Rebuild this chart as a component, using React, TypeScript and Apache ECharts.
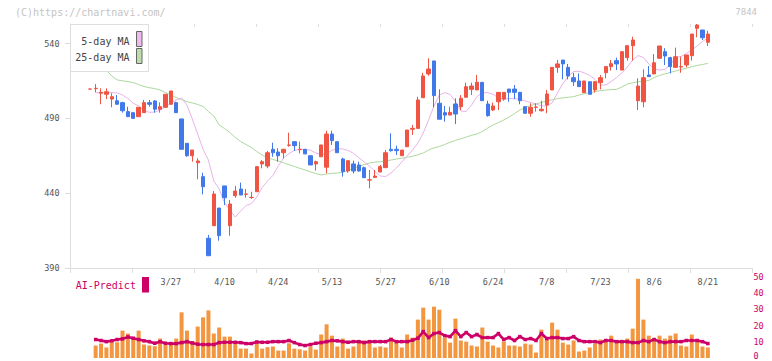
import React, { useEffect, useRef } from "react";
import * as echarts from "echarts";

// ---- data ----
const dates = [
  "3/5", "3/6", "3/7", "3/8", "3/11", "3/12", "3/13", "3/14", "3/15", "3/18", "3/19", "3/21", "3/22", "3/25", "3/26",
  "3/27", "3/28", "3/29", "4/1", "4/2", "4/3", "4/4", "4/5", "4/8", "4/9",
  "4/10", "4/11", "4/12", "4/15", "4/16", "4/17", "4/18", "4/19", "4/22", "4/23",
  "4/24", "4/25", "4/26", "4/30", "5/1", "5/2", "5/7", "5/8", "5/9", "5/10",
  "5/13", "5/14", "5/15", "5/16", "5/17", "5/20", "5/21", "5/22", "5/23", "5/24",
  "5/27", "5/28", "5/29", "5/30", "5/31", "6/3", "6/4", "6/5", "6/6", "6/7",
  "6/10", "6/11", "6/12", "6/13", "6/14", "6/17", "6/18", "6/19", "6/20", "6/21",
  "6/24", "6/25", "6/26", "6/27", "6/28", "7/1", "7/2", "7/3", "7/4", "7/5",
  "7/8", "7/9", "7/10", "7/11", "7/12", "7/16", "7/17", "7/18", "7/19", "7/22",
  "7/23", "7/24", "7/25", "7/26", "7/29", "7/30", "7/31", "8/1", "8/2", "8/5",
  "8/6", "8/7", "8/8", "8/9", "8/13", "8/14", "8/15", "8/16", "8/19", "8/20",
  "8/21",
];

const dateLabels = ["3/27", "4/10", "4/24", "5/13", "5/27", "6/10", "6/24", "7/8", "7/23", "8/6", "8/21"];
const priceTicks = [390, 440, 490, 540];
const volumeTicks = [0, 10, 20, 30, 40, 50];

const opens = [
  509.7,
  510, 506.9, 506.2, 503, 501.9, 500.6, 494.6, 493.9, 491.2, 493.9,
  500.6, 501.7, 496.2, 497.5, 499.5, 500.6, 489.7, 473.4, 465.1, 460.4,
  451.1, 409.9, 418.3, 430.1, 444.9, 418.3, 438.4, 442.8, 439.3, 437.1,
  441.0, 459.6, 458.2, 469.4, 467.6, 467.1, 472.1, 474.5, 469.2, 469.4,
  465.1, 459.6, 464.4, 457.4, 479.6, 474.5, 462.9, 454.9, 459.6, 458.9,
  457.1, 448.8, 450.6, 454.2, 457.1, 469.4, 469.4, 465.1, 471.1, 482.8,
  483.4, 503.9, 519.8, 528.5, 500.2, 493.9, 492.3, 499.7, 497.9, 504.2,
  509.5, 509.1, 514.2, 499.7, 495.7, 501.2, 503.0, 509.7, 509.7, 507.5,
  497.9, 493.5, 497.5, 495.2, 499.0, 509.1, 524.2, 529.1, 524.2, 517.3,
  515.1, 507.3, 514.6, 509.1, 514.0, 520.6, 524.7, 528.7, 522.4, 530.7,
  538.7, 501.9, 501.2, 519.1, 519.8, 530.3, 534.7, 530.7, 524.2, 524.5,
  525.8, 532.0, 550.3, 549.2, 541.0,
];

const closes = [
  509.7,
  510.2, 507.5, 507.9, 504.6, 499.5, 495.2, 491.2, 490.1, 497.5, 500.6,
  499.5, 496.2, 497.9, 506.2, 508.4, 493.9, 469.4, 465.1, 468.9, 461.6,
  444.4, 398.2, 439.5, 411.6, 437.0, 432.8, 441.5, 438.8, 439.5, 437.3,
  457.8, 461.1, 467.1, 467.1, 465.1, 469.4, 472.3, 471.8, 469.4, 466.3,
  458.9, 461.1, 472.3, 479.6, 475.2, 467.1, 454.4, 461.8, 454.9, 454.9,
  450.4, 449.0, 451.5, 457.8, 467.1, 468.5, 468.5, 468.9, 482.3, 483.4,
  502.4, 518.4, 523.1, 505.3, 489.5, 492.3, 494.1, 493.0, 503.5, 511.3,
  511.7, 514.2, 501.9, 491.9, 498.4, 507.5, 507.5, 507.5, 507.5, 501.9,
  493.5, 497.5, 497.7, 496.2, 506.4, 524.2, 526.5, 526.5, 518.4, 514.6,
  511.3, 515.1, 506.2, 514.6, 517.3, 524.7, 526.7, 526.5, 534.7, 538.7,
  542.5, 511.7, 517.3, 518.0, 527.3, 538.5, 531.8, 524.7, 531.3, 524.7,
  532.5, 546.5, 552.5, 544.0, 546.5,
];

const lows = [
  509.7,
  507.5, 499.5, 503.0, 497.5, 499.5, 493.9, 491.2, 490.1, 491.2, 493.9,
  497.9, 493.9, 493.9, 497.5, 499.5, 493.9, 469.4, 464.4, 461.1, 449.3,
  439.3, 398.2, 418.3, 408.3, 432.1, 411.6, 437.0, 438.8, 437.0, 436.2,
  441.0, 456.7, 456.7, 464.4, 461.1, 463.4, 471.1, 468.3, 466.7, 466.3,
  458.9, 455.1, 464.4, 453.3, 472.3, 467.1, 451.1, 453.7, 453.3, 454.4,
  450.4, 443.3, 450.6, 454.2, 457.1, 467.8, 465.6, 465.1, 471.1, 479.0,
  483.0, 503.9, 518.6, 497.5, 489.5, 487.9, 492.3, 486.3, 495.7, 504.2,
  505.7, 509.1, 501.9, 491.2, 495.0, 495.7, 501.9, 501.2, 503.0, 499.5,
  493.5, 491.2, 494.6, 494.6, 493.5, 509.1, 520.6, 516.2, 516.2, 511.7,
  511.3, 507.3, 506.2, 507.3, 509.5, 516.9, 522.0, 522.4, 522.4, 528.7,
  528.7, 495.7, 497.5, 518.0, 519.8, 529.7, 525.8, 520.2, 524.2, 520.6,
  524.2, 528.7, 544.3, 542.5, 538.5,
];

const highs = [
  509.7,
  513.0, 510.2, 510.2, 506.9, 505.7, 501.2, 497.9, 493.9, 497.5, 502.4,
  502.4, 502.4, 500.8, 506.2, 508.4, 501.2, 489.7, 473.4, 468.9, 463.4,
  453.7, 412.1, 441.5, 430.1, 444.9, 435.5, 444.9, 447.1, 442.8, 441.0,
  457.8, 462.2, 468.3, 473.8, 470.1, 469.4, 480.5, 474.5, 474.5, 469.4,
  465.1, 461.8, 472.3, 481.8, 481.8, 474.5, 463.8, 461.8, 461.8, 461.1,
  457.8, 455.6, 455.6, 458.9, 468.9, 480.1, 471.8, 468.9, 482.3, 485.7,
  504.6, 520.6, 530.3, 528.5, 509.5, 498.4, 497.9, 503.5, 505.7, 514.0,
  514.0, 519.1, 514.2, 501.9, 500.6, 507.5, 507.5, 509.7, 512.4, 507.5,
  497.9, 500.2, 500.2, 501.9, 509.1, 524.2, 529.1, 529.1, 526.5, 520.6,
  520.2, 515.1, 514.6, 515.1, 519.1, 524.7, 529.1, 530.7, 534.7, 538.7,
  544.7, 516.9, 522.9, 525.1, 533.1, 538.5, 537.0, 531.3, 537.4, 531.3,
  532.5, 546.5, 553.2, 549.2, 548.7,
];

const ma5 = [
  null,
  507.3, 507.1, 507.4, 507.4, 507.1, 505.7, 503.4, 500.2, 498.4, 495.4,
  494.1, 494.3, 495.7, 497.7, 500.4, 502.4, 503.7, 499.0, 489.7, 479.6,
  469.3, 462.2, 448.2, 442.8, 433.5, 428.8, 424.1, 428.1, 431.8, 433.1,
  437.5, 443.8, 448.2, 451.9, 458.2, 463.6, 466.6, 468.6, 469.4, 469.2,
  468.9, 466.9, 465.9, 466.7, 468.6, 469.9, 469.6, 468.6, 466.7, 463.9,
  460.9, 458.2, 454.6, 451.5, 451.2, 453.5, 456.9, 460.9, 464.9, 468.9,
  473.6, 480.3, 489.0, 498.4, 505.7, 507.3, 506.1, 501.4, 495.0, 494.7,
  499.0, 504.7, 507.1, 507.3, 506.1, 504.0, 502.8, 503.4, 503.2, 502.8,
  501.8, 500.7, 499.7, 498.4, 498.4, 500.4, 507.1, 513.4, 518.1, 521.4,
  521.6, 520.6, 518.8, 516.1, 512.4, 512.4, 514.7, 517.4, 520.4, 524.4,
  529.1, 532.1, 530.8, 526.5, 523.1, 522.4, 522.8, 526.1, 530.8, 531.5,
  533.5, 535.8, 538.5, 541.5, 543.8,
];

const ma25 = [
  530.5,
  527.8, 525.1, 522.4, 518.4, 515.8, 515.2, 514.7, 514.0, 512.7, 511.4,
  510.6, 510.0, 509.1, 507.4, 505.7, 504.0, 502.7, 501.2, 500.4, 499.4,
  498.0, 494.7, 491.7, 485.7, 483.3, 480.6, 477.3, 474.6, 472.6, 470.6,
  467.9, 465.6, 463.6, 462.6, 461.6, 460.4, 459.1, 457.9, 456.7, 455.6,
  454.3, 453.2, 452.2, 452.9, 453.3, 453.5, 454.2, 455.2, 456.6, 457.9,
  459.2, 460.2, 460.8, 461.1, 461.7, 462.2, 462.9, 463.4, 464.1, 464.8,
  465.7, 466.9, 468.9, 470.4, 471.3, 472.6, 474.1, 475.4, 476.4, 477.6,
  478.8, 479.6, 481.3, 483.6, 485.7, 487.3, 489.0, 491.0, 493.3, 495.7,
  497.4, 498.7, 499.7, 500.7, 501.8, 502.5, 503.3, 503.8, 504.2, 504.6,
  505.7, 506.6, 507.3, 508.0, 508.7, 509.0, 509.3, 509.5, 511.1, 513.1,
  513.9, 514.6, 515.0, 515.4, 517.4, 518.8, 519.8, 520.8, 521.8, 522.8,
  523.6, 524.6, 525.5, 526.1, 526.9,
];

const volumes = [
  null,
  7.7, 8.9, 6.5, 9.7, 9.7, 16.9, 15.1, 12.0, 16.9, 8.3,
  7.7, 7.3, 12.0, 8.3, 8.3, 12.0, 28.2, 16.9, 10.4, 19.4,
  25.1, 29.4, 15.1, 18.8, 13.2, 13.2, 9.7, 5.8, 5.8, 2.8,
  10.4, 5.8, 6.7, 7.1, 4.6, 4.6, 9.1, 5.8, 5.4, 4.6,
  7.1, 5.2, 14.5, 20.8, 13.8, 7.1, 12.0, 5.8, 7.1, 10.8,
  10.8, 9.5, 6.5, 7.1, 6.5, 12.6, 9.5, 6.5, 14.5, 12.6,
  23.7, 31.1, 23.7, 31.7, 29.8, 12.6, 9.5, 24.3, 10.8, 10.1,
  7.7, 7.1, 18.8, 10.1, 7.7, 6.5, 10.1, 7.7, 7.7, 7.1,
  8.9, 8.3, 3.4, 17.5, 11.4, 21.8, 17.5, 9.5, 8.3, 10.8,
  4.0, 4.6, 6.5, 8.9, 11.4, 11.4, 13.8, 10.8, 10.8, 12.0,
  18.1, 48.9, 23.7, 13.8, 12.0, 13.8, 12.0, 13.8, 15.1, 7.7,
  7.1, 14.5, 10.1, 7.1, 6.5,
];

const aiPredict = [
  null,
  11.4, 10.8, 10.1, 10.6, 11.4, 11.8, 13.0, 12.2, 11.4, 10.6,
  10.1, 9.1, 10.1, 9.1, 8.9, 8.9, 9.5, 10.1, 9.3, 8.5,
  8.3, 8.3, 8.3, 9.5, 9.7, 9.7, 9.7, 9.5, 8.9, 8.9,
  9.9, 9.7, 9.7, 10.1, 10.1, 10.1, 10.8, 9.5, 8.3, 7.7,
  8.3, 9.1, 9.5, 10.1, 10.8, 10.6, 10.1, 9.7, 10.1, 10.1,
  9.5, 10.1, 10.1, 10.1, 10.1, 11.4, 10.1, 10.1, 10.1, 11.0,
  12.2, 16.3, 12.6, 15.1, 15.7, 13.8, 13.2, 16.9, 13.2, 15.7,
  13.2, 14.5, 12.6, 12.6, 12.6, 15.1, 11.4, 12.6, 10.8, 13.2,
  11.4, 12.0, 10.8, 15.1, 12.0, 12.6, 12.6, 12.0, 12.0, 13.2,
  10.8, 10.1, 10.1, 10.1, 9.5, 10.8, 10.8, 10.1, 10.1, 10.1,
  9.5, 9.5, 10.8, 10.1, 11.4, 10.1, 9.5, 10.1, 10.1, 10.1,
  10.8, 10.8, 10.8, 10.1, 8.9,
];

// ---- layout / style ----
const PAD_BEFORE = 3;
const PAD_AFTER = 8;
const RED = "#f05442";
const BLUE = "#4279ea";
const ORANGE = "#f39640";
const MAGENTA = "#cc0066";
const PINK = "#e8b2ea";
const GREEN = "#acd89c";
const AXIS = "#dddddd";
const FONT = "DejaVu Sans Mono";
const Y_MIN = 390;
const Y_MAX = 553.21;

const categories = [
  ...Array.from({ length: PAD_BEFORE }, (_, i) => `pre${i}`),
  ...dates,
  ...Array.from({ length: PAD_AFTER }, (_, i) => `post${i}`),
];

function pairs(values: (number | null)[]) {
  const out: [number, number][] = [];
  values.forEach((v, i) => {
    if (v !== null && v !== undefined) out.push([i + PAD_BEFORE, v]);
  });
  return out;
}

export default function App() {
  const ref = useRef<HTMLDivElement>(null);

  useEffect(() => {
    if (!ref.current) return;
    const chart = echarts.init(ref.current, null, { renderer: "svg" });

    const candleData = dates.map((_, i) => [i + PAD_BEFORE, opens[i], closes[i], lows[i], highs[i]]);

    const option: any = {
      animation: false,
      backgroundColor: "#ffffff",
      textStyle: { fontFamily: FONT },
      grid: [
        { left: 71.5, top: 24, width: 682, height: 244, outerBoundsMode: "none", containLabel: false },
        { left: 70, top: 24, width: 682, height: 244, outerBoundsMode: "none", containLabel: false },
        { left: 71.5, top: 277, width: 682, height: 81, outerBoundsMode: "none", containLabel: false },
      ],
      xAxis: [
        {
          type: "category",
          gridIndex: 0,
          data: categories,
          boundaryGap: true,
          axisLine: { show: false },
          axisTick: { show: false },
          splitLine: { show: false },
          axisLabel: {
            show: true,
            interval: (_index: number, value: string) => dateLabels.includes(value),
            margin: 9,
            fontSize: 8.5,
            color: "#555555",
            fontFamily: FONT,
            hideOverlap: false,
          },
        },
        {
          type: "value",
          gridIndex: 1,
          min: 0,
          max: 11,
          interval: 1,
          axisLine: { show: true, lineStyle: { color: AXIS, width: 1 } },
          axisTick: { show: true, length: 5, lineStyle: { color: AXIS } },
          axisLabel: { show: false },
          splitLine: { show: false },
        },
        {
          type: "category",
          gridIndex: 2,
          data: categories,
          boundaryGap: true,
          show: false,
        },
        {
          type: "value",
          gridIndex: 1,
          min: 0,
          max: 11,
          interval: 1,
          axisLine: { show: false },
          axisTick: { show: true, inside: true, length: 3, lineStyle: { color: AXIS } },
          axisLabel: { show: false },
          splitLine: { show: false },
        },
      ],
      yAxis: [
        {
          type: "value",
          gridIndex: 0,
          min: Y_MIN,
          max: Y_MAX,
          show: false,
          splitLine: { show: false },
        },
        {
          type: "value",
          gridIndex: 1,
          min: Y_MIN,
          max: Y_MAX,
          position: "left",
          axisLine: { show: true, lineStyle: { color: AXIS } },
          axisTick: { show: true, length: 5, lineStyle: { color: AXIS }, customValues: priceTicks },
          axisLabel: {
            customValues: priceTicks,
            margin: 10.5,
            fontSize: 8.5,
            color: "#555555",
            fontFamily: FONT,
          },
          splitLine: { show: false },
        },
        {
          type: "value",
          gridIndex: 2,
          min: volumeTicks[0],
          max: volumeTicks[volumeTicks.length - 1],
          interval: 10,
          position: "right",
          axisLine: { show: false },
          axisTick: { show: false },
          splitLine: { show: false },
          axisLabel: {
            margin: 0,
            fontSize: 8.5,
            color: MAGENTA,
            fontFamily: FONT,
            formatter: (v: number) => (v === volumeTicks[0] ? "" : String(v)),
          },
        },
      ],
      series: [
        {
          name: "25-day MA",
          type: "line",
          xAxisIndex: 0,
          yAxisIndex: 0,
          data: pairs(ma25),
          showSymbol: false,
          lineStyle: { color: GREEN, width: 1 },
          z: 1,
        },
        {
          name: "5-day MA",
          type: "line",
          xAxisIndex: 0,
          yAxisIndex: 0,
          data: pairs(ma5),
          showSymbol: false,
          lineStyle: { color: PINK, width: 1 },
          z: 1,
        },
        {
          name: "price",
          type: "candlestick",
          xAxisIndex: 0,
          yAxisIndex: 0,
          data: candleData,
          encode: { x: 0, y: [1, 2, 3, 4] },
          barWidth: 3.8,
          itemStyle: {
            color: RED,
            color0: BLUE,
            borderColor: RED,
            borderColor0: BLUE,
            borderWidth: 1,
          },
          z: 3,
        },
        {
          name: "volume",
          type: "bar",
          xAxisIndex: 2,
          yAxisIndex: 2,
          data: pairs(volumes),
          barWidth: 4,
          itemStyle: { color: ORANGE },
          z: 2,
        },
        {
          name: "AI-Predict",
          type: "line",
          xAxisIndex: 2,
          yAxisIndex: 2,
          data: pairs(aiPredict),
          showSymbol: true,
          symbol: "rect",
          symbolSize: 3.5,
          itemStyle: { color: MAGENTA },
          lineStyle: { color: MAGENTA, width: 2.6 },
          z: 4,
        },
      ],
      graphic: [
        {
          type: "text",
          x: 15,
          y: 12.7,
          z: 100,
          style: {
            text: "(C)https://chartnavi.com/",
            font: `10px "${FONT}"`,
            fill: "#c4c4c4",
            verticalAlign: "middle",
            textVerticalAlign: "middle",
          },
        },
        {
          type: "text",
          x: 757,
          y: 12,
          z: 100,
          style: {
            text: "7844",
            font: `9px "${FONT}"`,
            fill: "#c4c4c4",
            align: "right",
            textAlign: "right",
            verticalAlign: "middle",
            textVerticalAlign: "middle",
          },
        },
        {
          type: "text",
          x: 753.5,
          y: 360.5,
          z: 100,
          style: {
            text: String(volumeTicks[0]),
            font: `8.5px "${FONT}"`,
            fill: MAGENTA,
            verticalAlign: "bottom",
            textVerticalAlign: "bottom",
          },
        },
        {
          type: "rect",
          z: 100,
          shape: { x: 70.5, y: 24.5, width: 78, height: 47 },
          style: { fill: "#ffffff", stroke: AXIS, lineWidth: 1 },
        },
        {
          type: "text",
          x: 129.5,
          y: 41,
          z: 101,
          style: {
            text: "5-day MA",
            font: `10px "${FONT}"`,
            fill: "#444444",
            align: "right",
            textAlign: "right",
            verticalAlign: "middle",
            textVerticalAlign: "middle",
          },
        },
        {
          type: "text",
          x: 129.5,
          y: 57.5,
          z: 101,
          style: {
            text: "25-day MA",
            font: `10px "${FONT}"`,
            fill: "#444444",
            align: "right",
            textAlign: "right",
            verticalAlign: "middle",
            textVerticalAlign: "middle",
          },
        },
        {
          type: "rect",
          z: 101,
          shape: { x: 136.5, y: 31.5, width: 5.5, height: 15 },
          style: { fill: "#eebbee", stroke: "#666666", lineWidth: 1 },
        },
        {
          type: "rect",
          z: 101,
          shape: { x: 136.5, y: 48.5, width: 5.5, height: 15 },
          style: { fill: "#bbddaa", stroke: "#666666", lineWidth: 1 },
        },
        {
          type: "text",
          x: 75.7,
          y: 285.5,
          z: 100,
          style: {
            text: "AI-Predict",
            font: `10px "${FONT}"`,
            fill: MAGENTA,
            verticalAlign: "middle",
            textVerticalAlign: "middle",
          },
        },
        {
          type: "rect",
          z: 100,
          shape: { x: 142, y: 277, width: 7, height: 15.5 },
          style: { fill: MAGENTA },
        },
      ],
    };

    chart.setOption(option);
    return () => chart.dispose();
  }, []);

  return (
    <div
      ref={ref}
      style={{ position: "absolute", left: 0, top: 0, width: 772, height: 361 }}
    />
  );
}
